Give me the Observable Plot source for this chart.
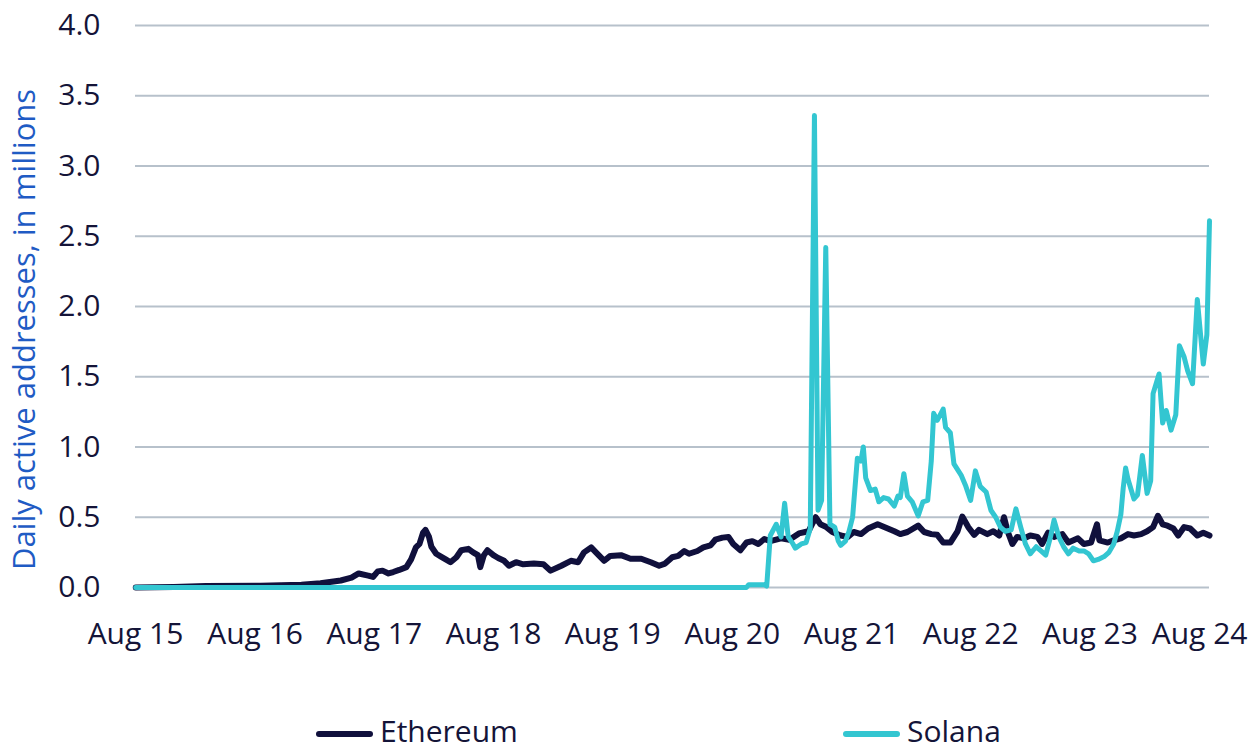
<!DOCTYPE html>
<html>
<head>
<meta charset="utf-8">
<script src="https://cdn.jsdelivr.net/npm/d3@7"></script>
<script src="https://cdn.jsdelivr.net/npm/@observablehq/plot@0.6"></script>
<style>
  html, body { margin: 0; padding: 0; background: #fff; overflow: hidden; width: 1254px; height: 751px; }
  #wrap { position: relative; width: 1254px; height: 751px; font-family: "Open Sans", sans-serif; }
  .sw { position: absolute; height: 6px; border-radius: 3px; }
  .lt { position: absolute; font-size: 30px; line-height: 30px; color: #141438; white-space: nowrap; }
</style>
</head>
<body>
<div id="wrap"></div>
<script>
// Axis ticks
const yTicks = [0, 0.5, 1.0, 1.5, 2.0, 2.5, 3.0, 3.5, 4.0];
const xTickYears = [2015, 2016, 2017, 2018, 2019, 2020, 2021, 2022, 2023, 2024];
const xTickLabels = ["Aug 15", "Aug 16", "Aug 17", "Aug 18", "Aug 19", "Aug 20", "Aug 21", "Aug 22", "Aug 23", "Aug 24"];
const seriesNames = ["Ethereum", "Solana"];
const seriesColors = ["#10103c", "#33c6d1"];
const yTitle = "Daily active addresses, in millions";

// Ethereum: [decimal year, daily active addresses in millions]
const ethereum = [
  [2015.583, 0.00], [2015.90, 0.003], [2016.17, 0.01], [2016.63, 0.012], [2016.97, 0.02],
  [2017.13, 0.03], [2017.30, 0.05], [2017.39, 0.07], [2017.45, 0.10], [2017.53, 0.085],
  [2017.57, 0.075], [2017.61, 0.115], [2017.65, 0.12], [2017.70, 0.10], [2017.74, 0.11],
  [2017.79, 0.125], [2017.85, 0.145], [2017.89, 0.20], [2017.93, 0.285], [2017.96, 0.31],
  [2017.99, 0.39], [2018.01, 0.41], [2018.04, 0.36], [2018.06, 0.29], [2018.10, 0.24],
  [2018.14, 0.22], [2018.18, 0.20], [2018.22, 0.18], [2018.27, 0.215], [2018.31, 0.265],
  [2018.37, 0.275], [2018.41, 0.25], [2018.45, 0.23], [2018.47, 0.145], [2018.50, 0.23],
  [2018.53, 0.265], [2018.58, 0.23], [2018.62, 0.21], [2018.67, 0.19], [2018.71, 0.155],
  [2018.77, 0.18], [2018.83, 0.165], [2018.92, 0.17], [2019.00, 0.165], [2019.06, 0.12],
  [2019.15, 0.155], [2019.23, 0.19], [2019.29, 0.18], [2019.34, 0.25], [2019.40, 0.285],
  [2019.44, 0.25], [2019.51, 0.19], [2019.56, 0.225], [2019.65, 0.23], [2019.73, 0.205],
  [2019.82, 0.205], [2019.90, 0.18], [2019.97, 0.155], [2020.02, 0.17], [2020.08, 0.215],
  [2020.13, 0.225], [2020.18, 0.26], [2020.22, 0.24], [2020.29, 0.26], [2020.34, 0.285],
  [2020.40, 0.30], [2020.44, 0.34], [2020.50, 0.355], [2020.55, 0.36], [2020.59, 0.31],
  [2020.65, 0.265], [2020.70, 0.32], [2020.75, 0.33], [2020.80, 0.31], [2020.85, 0.345],
  [2020.90, 0.33], [2020.99, 0.35], [2021.06, 0.34], [2021.14, 0.385], [2021.22, 0.40],
  [2021.28, 0.50], [2021.32, 0.45], [2021.37, 0.43], [2021.42, 0.395], [2021.49, 0.37],
  [2021.55, 0.36], [2021.60, 0.395], [2021.66, 0.38], [2021.72, 0.42], [2021.80, 0.45],
  [2021.87, 0.425], [2021.94, 0.40], [2021.99, 0.38], [2022.05, 0.395], [2022.14, 0.44],
  [2022.19, 0.395], [2022.25, 0.38], [2022.30, 0.375], [2022.35, 0.32], [2022.41, 0.32],
  [2022.47, 0.40], [2022.51, 0.505], [2022.56, 0.43], [2022.61, 0.375], [2022.65, 0.41],
  [2022.72, 0.38], [2022.77, 0.40], [2022.82, 0.37], [2022.86, 0.50], [2022.89, 0.40],
  [2022.93, 0.31], [2022.97, 0.36], [2023.03, 0.35], [2023.08, 0.37], [2023.14, 0.36],
  [2023.18, 0.31], [2023.23, 0.39], [2023.28, 0.36], [2023.35, 0.38], [2023.40, 0.32],
  [2023.48, 0.35], [2023.53, 0.31], [2023.59, 0.32], [2023.64, 0.45], [2023.66, 0.335],
  [2023.73, 0.32], [2023.78, 0.335], [2023.84, 0.35], [2023.90, 0.38], [2023.95, 0.37],
  [2024.01, 0.38], [2024.06, 0.40], [2024.11, 0.43], [2024.15, 0.51], [2024.19, 0.45],
  [2024.23, 0.44], [2024.28, 0.42], [2024.32, 0.37], [2024.37, 0.43], [2024.42, 0.42],
  [2024.48, 0.37], [2024.53, 0.39], [2024.582, 0.37]
];

// Solana: [decimal year, daily active addresses in millions]
const solana = [
  [2015.583, 0.00], [2020.70, 0.00], [2020.72, 0.02], [2020.85, 0.02], [2020.87, 0.01],
  [2020.90, 0.37], [2020.95, 0.45], [2020.99, 0.36], [2021.02, 0.60], [2021.05, 0.36],
  [2021.09, 0.31], [2021.11, 0.28], [2021.16, 0.31], [2021.20, 0.32], [2021.235, 0.42],
  [2021.27, 3.36], [2021.30, 0.55], [2021.33, 0.62], [2021.365, 2.42], [2021.40, 0.45],
  [2021.44, 0.43], [2021.47, 0.33], [2021.49, 0.30], [2021.53, 0.33], [2021.56, 0.40],
  [2021.59, 0.50], [2021.63, 0.92], [2021.66, 0.90], [2021.68, 1.00], [2021.70, 0.78],
  [2021.74, 0.69], [2021.78, 0.70], [2021.81, 0.61], [2021.85, 0.64], [2021.89, 0.63],
  [2021.94, 0.58], [2021.97, 0.65], [2021.99, 0.64], [2022.02, 0.81], [2022.05, 0.65],
  [2022.09, 0.61], [2022.14, 0.51], [2022.18, 0.61], [2022.22, 0.62], [2022.25, 0.90],
  [2022.27, 1.24], [2022.30, 1.19], [2022.35, 1.27], [2022.37, 1.14], [2022.41, 1.10],
  [2022.44, 0.88], [2022.50, 0.80], [2022.54, 0.72], [2022.58, 0.62], [2022.62, 0.83],
  [2022.66, 0.72], [2022.71, 0.68], [2022.75, 0.55], [2022.79, 0.50], [2022.83, 0.43],
  [2022.87, 0.40], [2022.92, 0.41], [2022.96, 0.56], [2023.00, 0.43], [2023.04, 0.31],
  [2023.08, 0.24], [2023.13, 0.29], [2023.17, 0.26], [2023.21, 0.23], [2023.25, 0.36],
  [2023.28, 0.48], [2023.32, 0.36], [2023.36, 0.29], [2023.40, 0.24], [2023.44, 0.28],
  [2023.49, 0.26], [2023.53, 0.26], [2023.57, 0.24], [2023.61, 0.19], [2023.65, 0.20],
  [2023.70, 0.22], [2023.74, 0.25], [2023.78, 0.31], [2023.81, 0.40], [2023.84, 0.52],
  [2023.86, 0.71], [2023.88, 0.85], [2023.90, 0.77], [2023.95, 0.63], [2023.98, 0.66],
  [2024.02, 0.94], [2024.06, 0.67], [2024.09, 0.76], [2024.11, 1.38], [2024.16, 1.52],
  [2024.19, 1.17], [2024.22, 1.26], [2024.26, 1.12], [2024.30, 1.23], [2024.33, 1.72],
  [2024.37, 1.64], [2024.40, 1.54], [2024.44, 1.45], [2024.48, 2.05], [2024.53, 1.59],
  [2024.56, 1.80], [2024.582, 2.61]
];

function toDate(y) {
  const yr = Math.floor(y);
  const s = Date.UTC(yr, 0, 1), e = Date.UTC(yr + 1, 0, 1);
  return new Date(s + (y - yr) * (e - s));
}
const rows = (arr, name) => arr.map(([t, v]) => ({date: toDate(t), value: v, series: name}));
const ethRows = rows(ethereum, seriesNames[0]);
const solRows = rows(solana, seriesNames[1]);

const xTickDates = xTickYears.map(y => new Date(Date.UTC(y, 7, 1)));
const labelOf = d => xTickLabels[xTickYears.indexOf(d.getUTCFullYear())];

const textColor = "#141438";

const chart = Plot.plot({
  width: 1254,
  height: 712,
  marginLeft: 135,
  marginRight: 45,
  marginTop: 25,
  marginBottom: 125,
  style: {fontFamily: "Open Sans, sans-serif", fontSize: "30px", color: textColor, background: "#fff"},
  x: {type: "utc", domain: [xTickDates[0], xTickDates[xTickDates.length - 1]]},
  y: {domain: [0, 4]},
  marks: [
    Plot.gridY(yTicks, {stroke: "#b7c1cb", strokeOpacity: 1, strokeWidth: 2}),
    Plot.axisY({ticks: yTicks, tickFormat: d3.format(".1f"), tickSize: 0, tickPadding: 35, label: null, fill: textColor}),
    Plot.axisX({ticks: xTickDates.slice(0, -1), tickFormat: labelOf, tickSize: 0, tickPadding: 35, label: null, fill: textColor}),
    Plot.axisX({ticks: xTickDates.slice(-1), tickFormat: labelOf, tickSize: 0, tickPadding: 35, label: null, fill: textColor, textAnchor: "end", dx: 38}),
    Plot.text([yTitle], {frameAnchor: "left", textAnchor: "middle", lineAnchor: "middle", rotate: -90, dx: -110, dy: 23, fill: "#1f5bc4", fontSize: 31}),
    Plot.line(ethRows, {x: "date", y: "value", stroke: seriesColors[0], strokeWidth: 6}),
    Plot.line(solRows, {x: "date", y: "value", stroke: seriesColors[1], strokeWidth: 5})
  ]
});

const wrap = document.getElementById("wrap");
chart.style.position = "absolute";
chart.style.left = "0px";
chart.style.top = "0px";
wrap.appendChild(chart);

// Legend below the chart
const legendItems = [
  {name: seriesNames[0], color: seriesColors[0], sx: 316, tx: 380},
  {name: seriesNames[1], color: seriesColors[1], sx: 843, tx: 907}
];
legendItems.forEach(it => {
  const sw = document.createElement("div");
  sw.className = "sw";
  sw.style.left = it.sx + "px";
  sw.style.top = "731px";
  sw.style.width = "57px";
  sw.style.background = it.color;
  wrap.appendChild(sw);
  const t = document.createElement("div");
  t.className = "lt";
  t.style.left = it.tx + "px";
  t.style.top = "716px";
  t.textContent = it.name;
  wrap.appendChild(t);
});
</script>
</body>
</html>
